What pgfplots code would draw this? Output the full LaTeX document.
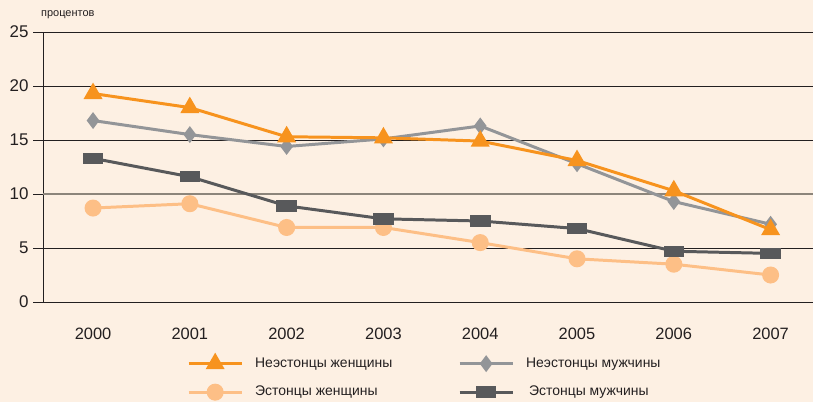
\documentclass[border=0pt]{standalone}
\usepackage{fontspec}
\setmainfont{Liberation Sans}
\usepackage{pgfplots}
\pgfplotsset{compat=1.18}
\definecolor{bg}{HTML}{FDF0E3}
\definecolor{cOr}{HTML}{F7931E}
\definecolor{cGr}{HTML}{939598}
\definecolor{cDk}{HTML}{58595B}
\definecolor{cLt}{HTML}{FDBF86}
\definecolor{cTx}{HTML}{231F20}
\definecolor{cG10}{HTML}{8C857B}
\begin{document}
\begin{tikzpicture}[x=1bp,y=1bp]
\clip (0,0) rectangle (813,402);
\fill[bg] (0,0) rectangle (813,402);
\node[anchor=west,font=\fontsize{11}{12}\selectfont,text=cTx,inner sep=0pt] at (41,387) {процентов};
\begin{axis}[
  at={(43bp,100bp)}, anchor=origin,
  scale only axis, width=770bp, height=270bp,
  xmin=1999.483, xmax=2007.438, ymin=0, ymax=25,
  axis lines=left, axis line style={-, cTx, line width=1pt},
  xtick={2000,...,2007}, xtick style={draw=none},
  xticklabel style={/pgf/number format/1000 sep={}, font=\fontsize{16.5}{18}\selectfont, text=cTx, yshift=-12bp},
  ytick={0,5,15,20,25},
  extra y ticks={10},
  extra y tick style={grid style={cG10, line width=1.2pt}},
  ymajorgrids, grid style={cTx, line width=0.8pt},
  tick align=outside, major tick length=10bp,
  ytick style={cTx, line width=0.8pt},
  yticklabel style={font=\fontsize{17}{18}\selectfont, text=cTx, xshift=-1bp},
  /pgf/number format/assume math mode=true,
  clip=false,
  legend columns=2,
  legend style={at={(axis description cs:0.187,-0.198)}, anchor=north west, draw=none, fill=none,
    inner sep=0pt, row sep=15bp,
    nodes={inner sep=0pt, text height=10bp, text depth=3bp, font=\fontsize{14}{16}\selectfont, text=cTx},
    /tikz/every odd column/.append style={column sep=12bp}},
  legend cell align=left,
  legend image code/.code={\draw[mark repeat=2,mark phase=2,#1] plot coordinates {(0bp,0bp) (26.5bp,0bp) (53bp,0bp)};},
]
\addlegendimage{cOr, line width=3pt, mark=triangle*, mark size=8bp, mark options={solid}}
\addlegendentry{\makebox[203bp][l]{Неэстонцы женщины}}
\addlegendimage{cGr, line width=3pt, mark=diamond*, mark size=6bp}
\addlegendentry{Неэстонцы мужчины}
\addlegendimage{cLt, line width=3pt, mark=*, mark size=7bp}
\addlegendentry{\makebox[203bp][l]{Эстонцы женщины}}
\addlegendimage{cDk, line width=3pt, mark=square*, mark size=4.2bp, mark options={xscale=2.1}}
\addlegendentry{\hspace{3bp}Эстонцы мужчины}

% Эстонцы женщины
\addplot[forget plot, cLt, line width=3pt, mark=*, mark size=7bp] coordinates {
(2000,8.7) (2001,9.1) (2002,6.9) (2003,6.9) (2004,5.5) (2005,4.0) (2006,3.5) (2007,2.5)};
% Эстонцы мужчины
\addplot[forget plot, cDk, line width=3pt, mark=square*, mark size=4.2bp, mark options={xscale=2.1}] coordinates {
(2000,13.3) (2001,11.6) (2002,8.9) (2003,7.7) (2004,7.5) (2005,6.8) (2006,4.7) (2007,4.5)};
% Неэстонцы мужчины
\addplot[forget plot, cGr, line width=3pt, mark=diamond*, mark size=6bp] coordinates {
(2000,16.8) (2001,15.5) (2002,14.4) (2003,15.1) (2004,16.3) (2005,12.8) (2006,9.3) (2007,7.2)};
% Неэстонцы женщины
\addplot[forget plot, cOr, line width=3pt, mark=triangle*, mark size=8bp] coordinates {
(2000,19.3) (2001,18.0) (2002,15.3) (2003,15.2) (2004,14.9) (2005,13.1) (2006,10.3) (2007,6.7)};
\end{axis}
\end{tikzpicture}
\end{document}
